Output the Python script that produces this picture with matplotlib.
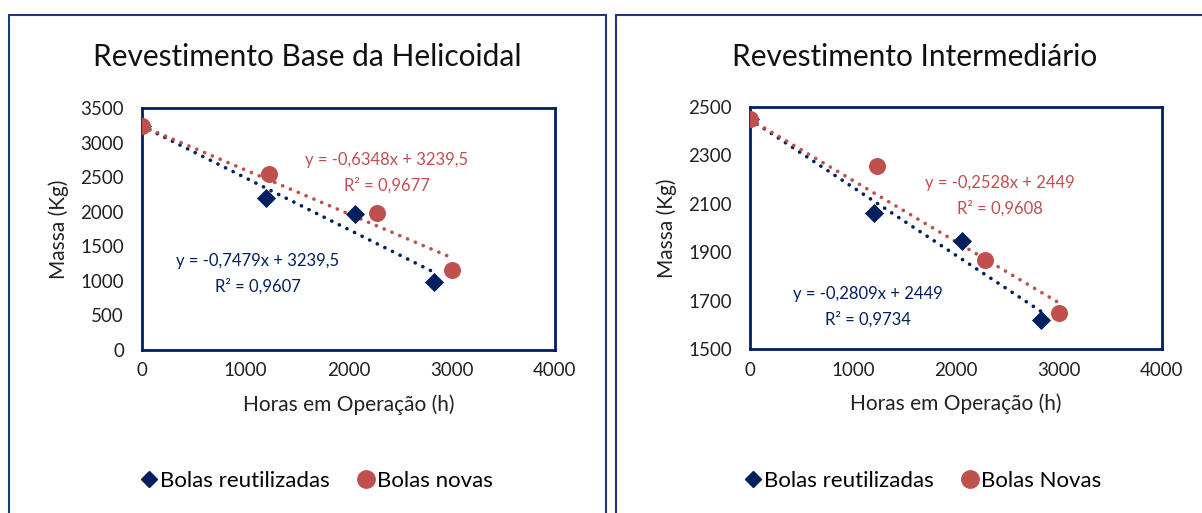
import matplotlib
matplotlib.use("Agg")
import matplotlib.pyplot as plt
from matplotlib.patches import Rectangle
from matplotlib.lines import Line2D
import numpy as np

# ---------------- data ----------------
titles = ["Revestimento Base da Helicoidal", "Revestimento Intermediário"]
legend_labels = [["Bolas reutilizadas", "Bolas novas"], ["Bolas reutilizadas", "Bolas Novas"]]

left_reuse_x = [0, 1200, 2060, 2830]
left_reuse_y = [3239.5, 2200, 1960, 990]
left_new_x = [0, 1230, 2280, 3000]
left_new_y = [3239.5, 2550, 1980, 1150]

right_reuse_x = [0, 1200, 2060, 2830]
right_reuse_y = [2449, 2060, 1945, 1620]
right_new_x = [0, 1230, 2280, 3000]
right_new_y = [2449, 2255, 1868, 1648]

# trendline coefficients (slope, intercept) as shown on the chart
left_reuse_fit = (-0.7479, 3239.5)
left_new_fit = (-0.6348, 3239.5)
right_reuse_fit = (-0.2809, 2449)
right_new_fit = (-0.2528, 2449)

left_reuse_eq = ["y = -0,7479x + 3239,5", "R² = 0,9607"]
left_new_eq = ["y = -0,6348x + 3239,5", "R² = 0,9677"]
right_reuse_eq = ["y = -0,2809x + 2449", "R² = 0,9734"]
right_new_eq = ["y = -0,2528x + 2449", "R² = 0,9608"]

x_ticks = [0, 1000, 2000, 3000, 4000]
left_y_ticks = [0, 500, 1000, 1500, 2000, 2500, 3000, 3500]
right_y_ticks = [1500, 1700, 1900, 2100, 2300, 2500]

# ---------------- style ----------------
W, H = 1202, 513
NAVY = "#002060"
RED = "#C0504D"
BORDER = "#1F3A78"
plt.rcParams["font.family"] = ["Lato", "DejaVu Sans"]

fig = plt.figure(figsize=(W / 100, H / 100), dpi=100)


def fx(px):
    return px / W


def fy(py):
    return 1 - py / H


# panel borders
fig.patches.append(Rectangle((fx(9), fy(530)), fx(606 - 9), (530 - 15) / H,
                             transform=fig.transFigure, fill=False,
                             edgecolor=BORDER, lw=1.5))
fig.patches.append(Rectangle((fx(616), fy(530)), fx(1230 - 616), (530 - 15) / H,
                             transform=fig.transFigure, fill=False,
                             edgecolor=BORDER, lw=1.5))


def make_panel(box, title, title_xy, rx, ry, nx, ny, rfit, nfit,
               req, neq, req_xy, neq_xy, yticks, legend_xy, labels):
    x0, y0, x1, y1 = box
    ax = fig.add_axes([fx(x0), fy(y1), fx(x1 - x0), (y1 - y0) / H])
    ax.set_xlim(0, 4000)
    ax.set_ylim(yticks[0], yticks[-1])
    ax.set_xticks(x_ticks)
    ax.set_yticks(yticks)
    ax.tick_params(length=0, labelsize=13.5, colors="#222222")
    ax.tick_params(axis="y", pad=13)
    ax.tick_params(axis="x", pad=9)
    for s in ax.spines.values():
        s.set_color(NAVY)
        s.set_linewidth(2)

    # trendlines
    for xs, fit, c in ((rx, rfit, NAVY), (nx, nfit, RED)):
        xx = np.array([min(xs), max(xs)])
        ax.plot(xx, fit[0] * xx + fit[1], color=c, lw=2.6,
                linestyle=(0, (0.05, 2.3)), dash_capstyle="round", zorder=2)

    ax.scatter(rx, ry, marker="D", s=95, color=NAVY, zorder=3, linewidths=0)
    ax.scatter(nx, ny, marker="o", s=150, color=RED, zorder=4, linewidths=0)

    ax.set_xlabel("Horas em Operação (h)", fontsize=15, color="#222222", labelpad=11)
    ax.set_ylabel("Massa (Kg)", fontsize=15, color="#222222", labelpad=8)

    for lines, (tx, ty), c in ((req, req_xy, NAVY), (neq, neq_xy, RED)):
        fig.text(fx(tx), fy(ty), lines[0], color=c, fontsize=12,
                 ha="center", va="center")
        fig.text(fx(tx), fy(ty + 25), lines[1], color=c, fontsize=12,
                 ha="center", va="center")

    fig.text(fx(title_xy[0]), fy(title_xy[1]), title, fontsize=21.5,
             ha="center", va="center", color="#111111")

    handles = [Line2D([], [], marker="D", color=NAVY, ls="none", markersize=8.5),
               Line2D([], [], marker="o", color=RED, ls="none", markersize=12.5)]
    fig.legend(handles, labels, loc="center",
               bbox_to_anchor=(fx(legend_xy[0]), fy(legend_xy[1])),
               ncol=2, frameon=False, fontsize=16, handletextpad=0.05,
               columnspacing=1.2, handlelength=0.9)
    return ax


make_panel((142, 108, 555, 350), titles[0], (307, 57),
           left_reuse_x, left_reuse_y, left_new_x, left_new_y,
           left_reuse_fit, left_new_fit, left_reuse_eq, left_new_eq,
           (258, 261), (387, 160), left_y_ticks, (316, 481), legend_labels[0])

make_panel((750, 107, 1162, 349), titles[1], (915, 57),
           right_reuse_x, right_reuse_y, right_new_x, right_new_y,
           right_reuse_fit, right_new_fit, right_reuse_eq, right_new_eq,
           (868, 294), (1000, 183), right_y_ticks, (922, 481), legend_labels[1])

fig.savefig("out.png", dpi=100)
